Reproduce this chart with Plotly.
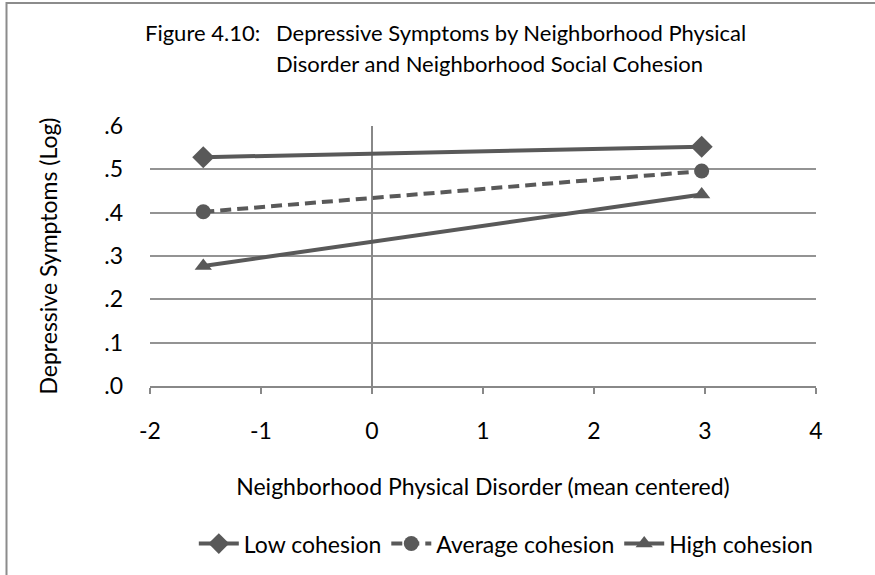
import plotly.graph_objects as go

x_points = [-1.52, 2.97]
low_cohesion = [0.528, 0.552]
average_cohesion = [0.402, 0.496]
high_cohesion = [0.277, 0.442]

series_names = ["Low cohesion", "Average cohesion", "High cohesion"]
y_tickvals = [0.0, 0.1, 0.2, 0.3, 0.4, 0.5, 0.6]
y_ticktext = [".0", ".1", ".2", ".3", ".4", ".5", ".6"]
x_tickvals = [-2, -1, 0, 1, 2, 3, 4]
x_ticktext = ["-2", "-1", "0", "1", "2", "3", "4"]

FONT = "Lato"
COL = "#595959"
FS = 23

fig = go.Figure()
styles = [
    dict(symbol="diamond", dash="solid", size=17),
    dict(symbol="circle", dash="11px,6px", size=15),
    dict(symbol="triangle-up", dash="solid", size=15),
]
for name, vals, st in zip(series_names, [low_cohesion, average_cohesion, high_cohesion], styles):
    fig.add_trace(go.Scatter(
        x=x_points, y=vals, name=name, mode="lines+markers",
        line=dict(color=COL, width=4, dash=st["dash"]),
        marker=dict(symbol=st["symbol"], size=st["size"], color=COL),
    ))

L, R, T, B = 150, 59, 126, 188
fig.update_layout(
    width=875, height=575,
    margin=dict(l=L, r=R, t=T, b=B),
    paper_bgcolor="white", plot_bgcolor="white",
    font=dict(family=FONT, size=FS, color="#000000"),
    showlegend=True,
    legend=dict(orientation="h", x=0.535, xanchor="center", y=-0.6, yanchor="middle",
                font=dict(size=FS), itemwidth=40, tracegroupgap=0),
    xaxis=dict(range=[-2, 4], tickvals=x_tickvals, ticktext=x_ticktext, showgrid=False,
               zeroline=True, zerolinecolor="#888888", zerolinewidth=1.5,
               showline=True, linecolor="#888888", linewidth=1.5,
               ticks="outside", ticklen=6, tickcolor="#888888", tickwidth=1.5,
               ticklabelstandoff=18,
               tickfont=dict(size=FS),
               title=dict(text="Neighborhood Physical Disorder (mean centered)", font=dict(size=FS), standoff=36)),
    yaxis=dict(range=[0, 0.6], tickvals=y_tickvals, ticktext=y_ticktext,
               showgrid=True, gridcolor="#939393", gridwidth=1.5,
               zeroline=False, showline=False, ticks="", ticklabelstandoff=26,
               tickfont=dict(size=FS),
               title=dict(text="Depressive Symptoms (Log)", font=dict(size=FS), standoff=40)),
)

pw = 875 - L - R
ph = 575 - T - B
def px_to_paper(px, py):
    return (px - L) / pw, (387 - py) / ph

TFS = 22
tx1, ty1 = px_to_paper(262, 32)
tx2, ty2 = px_to_paper(274, 32)
tx3, ty3 = px_to_paper(274, 63)
fig.add_annotation(text="Figure 4.10:", xref="paper", yref="paper", x=tx1, y=ty1,
                   xanchor="right", yanchor="middle", showarrow=False, font=dict(size=TFS))
fig.add_annotation(text="Depressive Symptoms by Neighborhood Physical", xref="paper", yref="paper",
                   x=tx2, y=ty2, xanchor="left", yanchor="middle", showarrow=False, font=dict(size=TFS))
fig.add_annotation(text="Disorder and Neighborhood Social Cohesion", xref="paper", yref="paper",
                   x=tx3, y=ty3, xanchor="left", yanchor="middle", showarrow=False, font=dict(size=TFS))

# chart border (left and top edges visible)
bx0, by0 = px_to_paper(6.5, 2.5)
bx1, by1 = px_to_paper(900, 600)
fig.add_shape(type="rect", xref="paper", yref="paper", x0=bx0, y0=by1, x1=bx1, y1=by0,
              line=dict(color="#8c8c8c", width=2), layer="below")

fig.write_html("out.html")
